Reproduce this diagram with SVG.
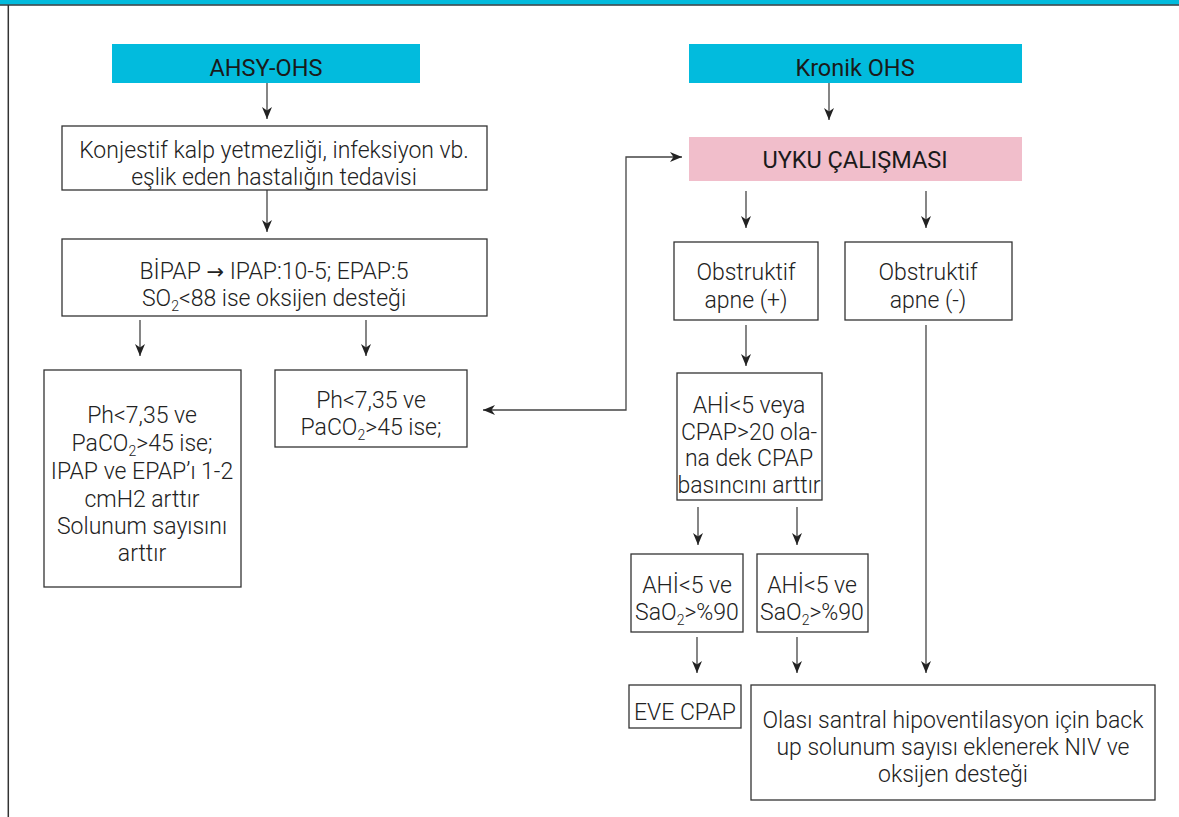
<svg xmlns="http://www.w3.org/2000/svg" width="1179" height="817" viewBox="0 0 1179 817">
<style>
.box{fill:#fff;stroke:#333;stroke-width:1.3}
.cyan{fill:#02BBDD}
.pink{fill:#F1BECB}
.t{font-family:Roboto,"Liberation Sans",sans-serif;font-weight:300;font-size:23px;fill:#222;text-anchor:middle}
.h{font-family:Roboto,"Liberation Sans",sans-serif;font-weight:400;font-size:23.5px;fill:#1a1a1a;text-anchor:middle}
.c{fill:none;stroke:#444;stroke-width:1.3}
</style>
<defs>
<marker id="ah" viewBox="0 0 12 12" refX="12" refY="6" markerWidth="12" markerHeight="12" markerUnits="userSpaceOnUse" orient="auto-start-reverse">
<path d="M0,1 L12,6 L0,11 L3.5,6 z" fill="#222"/>
</marker>
</defs>
<rect x="0" y="0" width="1179" height="817" fill="#fff"/>
<rect x="0" y="0" width="1179" height="4.6" class="cyan"/>
<line x1="0" y1="5" x2="1179" y2="5" stroke="#2a3a3f" stroke-width="1.3"/>
<line x1="8.3" y1="5" x2="8.3" y2="817" stroke="#333" stroke-width="1.5"/>

<g id="connectors">
<line class="c" x1="267" y1="83" x2="267" y2="119" marker-end="url(#ah)"/>
<line class="c" x1="829" y1="83" x2="829" y2="120" marker-end="url(#ah)"/>
<line class="c" x1="267" y1="190" x2="267" y2="232" marker-end="url(#ah)"/>
<line class="c" x1="140" y1="320" x2="140" y2="356" marker-end="url(#ah)"/>
<line class="c" x1="366" y1="320" x2="366" y2="356" marker-end="url(#ah)"/>
<path class="c" d="M483,410 H626 V157 H682" marker-start="url(#ah)" marker-end="url(#ah)"/>
<line class="c" x1="746" y1="191" x2="746" y2="228" marker-end="url(#ah)"/>
<line class="c" x1="926" y1="191" x2="926" y2="228" marker-end="url(#ah)"/>
<line class="c" x1="746" y1="325" x2="746" y2="366" marker-end="url(#ah)"/>
<line class="c" x1="926" y1="325" x2="926" y2="673" marker-end="url(#ah)"/>
<line class="c" x1="698" y1="507" x2="698" y2="545" marker-end="url(#ah)"/>
<line class="c" x1="797" y1="507" x2="797" y2="545" marker-end="url(#ah)"/>
<line class="c" x1="697" y1="637" x2="697" y2="673" marker-end="url(#ah)"/>
<line class="c" x1="797" y1="637" x2="797" y2="673" marker-end="url(#ah)"/>
</g>

<g id="ahsy">
<rect x="112" y="44" width="308" height="39" class="cyan"/>
<text class="h" x="266" y="76">AHSY-OHS</text>
</g>
<g id="kronik">
<rect x="689" y="44" width="333" height="39" class="cyan"/>
<text class="h" x="855" y="76">Kronik OHS</text>
</g>
<g id="uyku">
<rect x="689" y="137" width="333" height="44" class="pink"/>
<text class="h" x="855" y="168">UYKU ÇALIŞMASI</text>
</g>
<g id="konjestif">
<rect x="62" y="126" width="425" height="64" class="box"/>
<text class="t" x="274" y="158">Konjestif kalp yetmezliği, infeksiyon vb.</text>
<text class="t" x="274" y="185">eşlik eden hastalığın tedavisi</text>
</g>
<g id="bipap">
<rect x="62" y="239" width="425" height="77" class="box"/>
<text class="t" x="274" y="279">BİPAP <tspan font-family="'DejaVu Sans',sans-serif" font-weight="400" font-size="21">→</tspan> IPAP:10-5; EPAP:5</text>
<text class="t" x="274" y="306">SO<tspan font-size="14" dy="5">2</tspan><tspan dy="-5">&lt;88 ise oksijen desteği</tspan></text>
</g>
<g id="ph-left">
<rect x="44" y="370" width="197" height="217" class="box"/>
<text class="t" x="142" y="423">Ph&lt;7,35 ve</text>
<text class="t" x="142" y="451">PaCO<tspan font-size="14" dy="5">2</tspan><tspan dy="-5">&gt;45 ise;</tspan></text>
<text class="t" x="142" y="479">IPAP ve EPAP’ı 1-2</text>
<text class="t" x="142" y="507">cmH2 arttır</text>
<text class="t" x="142" y="534">Solunum sayısını</text>
<text class="t" x="142" y="561">arttır</text>
</g>
<g id="ph-mid">
<rect x="275" y="370" width="192" height="77" class="box"/>
<text class="t" x="371" y="408">Ph&lt;7,35 ve</text>
<text class="t" x="371" y="435">PaCO<tspan font-size="14" dy="5">2</tspan><tspan dy="-5">&gt;45 ise;</tspan></text>
</g>
<g id="obs-plus">
<rect x="674" y="242" width="144" height="78" class="box"/>
<text class="t" x="746" y="280">Obstruktif</text>
<text class="t" x="746" y="308">apne (+)</text>
</g>
<g id="obs-minus">
<rect x="845" y="242" width="167" height="78" class="box"/>
<text class="t" x="928" y="280">Obstruktif</text>
<text class="t" x="928" y="308">apne (-)</text>
</g>
<g id="ahi-cpap">
<rect x="677" y="373" width="145" height="127" class="box"/>
<text class="t" x="749" y="413">AHİ&lt;5 veya</text>
<text class="t" x="749" y="440">CPAP&gt;20 ola-</text>
<text class="t" x="749" y="466">na dek CPAP</text>
<text class="t" x="749" y="493">basıncını arttır</text>
</g>
<g id="ahi-left">
<rect x="631" y="554" width="112" height="78" class="box"/>
<text class="t" x="687" y="593">AHİ&lt;5 ve</text>
<text class="t" x="687" y="620">SaO<tspan font-size="14" dy="5">2</tspan><tspan dy="-5">&gt;%90</tspan></text>
</g>
<g id="ahi-right">
<rect x="757" y="554" width="111" height="78" class="box"/>
<text class="t" x="812" y="593">AHİ&lt;5 ve</text>
<text class="t" x="812" y="620">SaO<tspan font-size="14" dy="5">2</tspan><tspan dy="-5">&gt;%90</tspan></text>
</g>
<g id="eve-cpap">
<rect x="629" y="685" width="112" height="43" class="box"/>
<text class="t" x="685" y="720">EVE CPAP</text>
</g>
<g id="olasi">
<rect x="751" y="685" width="404" height="115" class="box"/>
<text class="t" x="953" y="728">Olası santral hipoventilasyon için back</text>
<text class="t" x="953" y="755">up solunum sayısı eklenerek NIV ve</text>
<text class="t" x="953" y="782">oksijen desteği</text>
</g>
</svg>
